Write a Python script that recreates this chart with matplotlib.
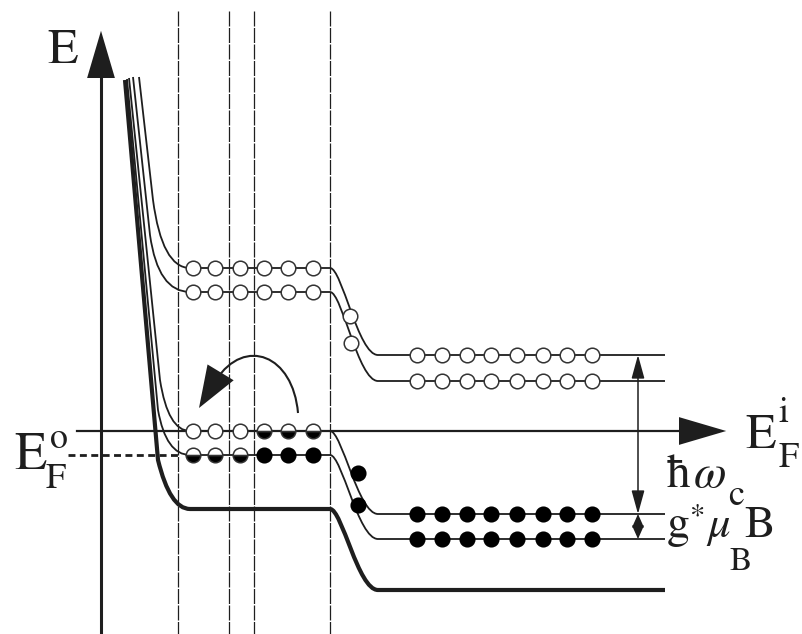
import matplotlib.pyplot as plt
from matplotlib.path import Path
from matplotlib.patches import PathPatch, FancyArrowPatch

plt.rcParams['mathtext.fontset'] = 'stix'
plt.rcParams['font.family'] = ['STIXGeneral', 'DejaVu Serif']

# Landau level energies (pixel units of the sketch), top to bottom
level_names = ['A', 'B', 'C', 'D', 'G']
left_y = [268, 292, 431, 455, 509]
right_y = [355, 381, 514, 539, 590]
wall_top = [(139, 77), (133, 77), (129, 78), (127, 79), (125, 80)]
wall_knee = [(153, 200), (150, 235), (160, 380), (158, 410), (158, 460)]
wall_ctrl_x = [162, 158, 168, 166, 170]

# electron states on the levels: 'o' empty, 'h' half filled, 'f' filled
left_dot_x = [193, 215, 240, 264, 288, 313]
right_dot_x = [417, 442, 467, 491, 517, 543, 567, 592]
left_states = {'A': 'oooooo', 'B': 'oooooo', 'C': 'ooohhh', 'D': 'hhhfff'}
right_states = {'A': 'o' * 8, 'B': 'o' * 8, 'C': 'f' * 8, 'D': 'f' * 8}
step_dots = [(350, 316, 'o'), (351, 343, 'o'), (358, 473, 'f'), (358, 505, 'f')]

dashed_x = [178, 229, 254, 330]
ef_i_y = 431
ef_o_y = 455
x_step = 330
x_end = 665

col = '#1e1e1e'

fig = plt.figure(figsize=(8.02, 6.34), dpi=100)
ax = fig.add_axes([0, 0, 1, 1])
ax.set_xlim(0, 802)
ax.set_ylim(634, 0)
ax.axis('off')

# vertical dashed boundaries
for x in dashed_x:
    ax.plot([x, x], [11, 634], color=col, lw=0.9, ls=(0, (12, 1.2)), zorder=1)

# level curves
for i, name in enumerate(level_names):
    yl, yr = left_y[i], right_y[i]
    verts = [wall_top[i], wall_knee[i], (wall_ctrl_x[i], yl), (190, yl),
             (x_step, yl), (x_step + 12, yl), (x_step + 28, yr), (x_step + 48, yr),
             (x_end, yr)]
    codes = [Path.MOVETO, Path.LINETO, Path.CURVE3, Path.CURVE3,
             Path.LINETO, Path.CURVE4, Path.CURVE4, Path.CURVE4,
             Path.LINETO]
    lw = 3.0 if name == 'G' else 1.3
    ax.add_patch(PathPatch(Path(verts, codes), fill=False, ec=col, lw=lw,
                           capstyle='butt', zorder=3))

# axes arrows
ax.plot([101, 101], [634, 60], color=col, lw=2.2, zorder=2)
ax.add_patch(FancyArrowPatch((101, 70), (101, 28), arrowstyle='-|>,head_length=1.7,head_width=0.5',
                             mutation_scale=20, color=col, lw=0, zorder=4))
ax.plot([77, 700], [ef_i_y, ef_i_y], color=col, lw=1.6, zorder=2)
ax.add_patch(FancyArrowPatch((690, ef_i_y), (729, ef_i_y), arrowstyle='-|>,head_length=1.7,head_width=0.5',
                             mutation_scale=20, color=col, lw=0, zorder=4))
ax.plot([68, 178], [ef_o_y, ef_o_y], color=col, lw=2.0, ls=(0, (2.5, 1.6)), zorder=2)

# dots
def dot(x, y, s):
    if s == 'o':
        ax.plot(x, y, 'o', ms=10.5, mfc='white', mec='#333333', mew=1.1, zorder=5)
    elif s == 'f':
        ax.plot(x, y, 'o', ms=10.5, mfc='black', mec='black', mew=1.1, zorder=5)
    else:
        ax.plot(x, y, 'o', ms=10.5, fillstyle='bottom', mfc='black',
                mfcalt='white', mec='#333333', mew=1.1, zorder=5)

for i, name in enumerate(level_names[:4]):
    for x, s in zip(left_dot_x, left_states[name]):
        dot(x, left_y[i], s)
    for x, s in zip(right_dot_x, right_states[name]):
        dot(x, right_y[i], s)
for x, y, s in step_dots:
    dot(x, y, s)

# curved arrow: arc plus a straight head
arc = Path([(298, 413), (293, 355), (245, 336), (216, 380)],
           [Path.MOVETO, Path.CURVE4, Path.CURVE4, Path.CURVE4])
ax.add_patch(PathPatch(arc, fill=False, ec=col, lw=1.5, zorder=4))
ax.add_patch(FancyArrowPatch((219, 375), (199, 408), arrowstyle='-|>,head_length=1.5,head_width=0.55',
                             mutation_scale=20, color=col, lw=0, shrinkA=0, shrinkB=0, zorder=4))

# level spacing arrows
ax.add_patch(FancyArrowPatch((638, right_y[2]), (638, right_y[0]), arrowstyle='<|-|>,head_length=0.8,head_width=0.22',
                             mutation_scale=18, color=col, lw=1.1, shrinkA=0, shrinkB=0, zorder=4))
ax.add_patch(FancyArrowPatch((638, right_y[3]), (638, right_y[2]), arrowstyle='<|-|>,head_length=0.45,head_width=0.2',
                             mutation_scale=18, color=col, lw=1.1, shrinkA=0, shrinkB=0, zorder=4))

# labels
def t(x, y, s, size, **kw):
    ax.text(x, y, s, fontsize=size, ha='left', va='baseline', color=col, **kw)

t(47, 63, 'E', 36)
t(14, 469, 'E', 38)
t(50, 448, 'o', 26)
t(46, 488, 'F', 26)
t(745, 448, 'E', 36)
t(778, 422, 'i', 26)
t(779, 467, 'F', 26)
t(667, 487, 'ħ', 34)
t(693, 487, r'$\omega$', 34)
t(728, 505, 'c', 26)
t(667, 537, 'g', 33)
t(690, 523, '*', 22)
t(706, 537, r'$\mu$', 32)
t(729, 570, 'B', 24)
t(744, 537, 'B', 33)

fig.savefig('out.png', dpi=100)
